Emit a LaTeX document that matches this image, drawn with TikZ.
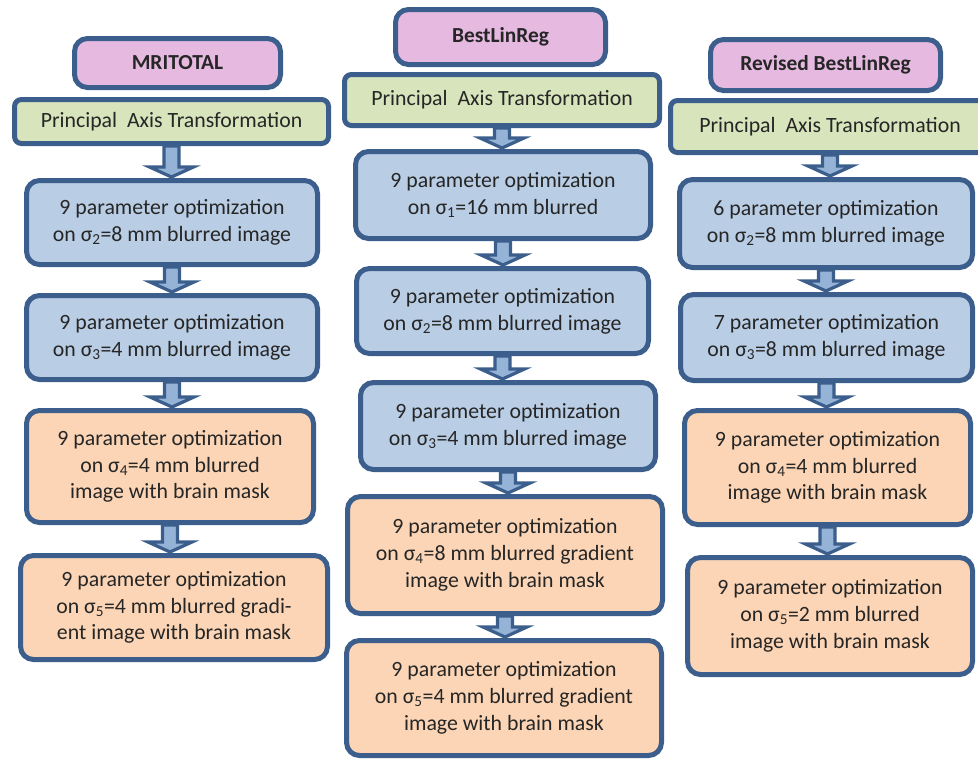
\documentclass[tikz,border=0pt]{standalone}
\usepackage{fontspec}
\setmainfont{Carlito}
\usepackage{tikz}
\usetikzlibrary{calc}

\definecolor{frameblue}{HTML}{3B5E8C}
\definecolor{headpink}{HTML}{E6B9E1}
\definecolor{patgreen}{HTML}{D8E4BC}
\definecolor{optblue}{HTML}{B9CDE5}
\definecolor{optorange}{HTML}{FBD5B5}
\definecolor{arrowfill}{HTML}{95B3D7}
\definecolor{textdark}{HTML}{262626}

\tikzset{
	stage/.style 2 args={draw=frameblue, line width=5pt, rounded corners=13pt,
		minimum width=#1, minimum height=#2, inner sep=0pt, align=center,
		text=textdark, font=\fontsize{21.8}{26.7}\selectfont},
	headbox/.style={fill=headpink, font=\fontsize{21.4}{26}\selectfont\bfseries},
	patbox/.style={fill=patgreen, rounded corners=7pt},
	blurbox/.style={fill=optblue},
	maskbox/.style={fill=optorange},
	arrowblock/.style={draw=frameblue, fill=arrowfill, line width=3.2pt, line join=miter},
}

% block arrow from the bottom of one stage to the top of the next
\newcommand{\stagearrow}[2]{%
	\path let \p1=(#1.south), \p2=(#2.north) in
		[arrowblock] (\x1-7.5pt,\y1) -- (\x1+7.5pt,\y1) -- (\x1+7.5pt,\y2+11pt)
		-- (\x1+22pt,\y2+11pt) -- (\x1,\y2+1pt) -- (\x1-22pt,\y2+11pt)
		-- (\x1-7.5pt,\y2+11pt) -- cycle;}

\begin{document}
\begin{tikzpicture}[x=1pt, y=-1pt]
	\useasboundingbox (0,0) rectangle (978,761);
	\clip (0,0) rectangle (978,761);
	% MRITOTAL
	\node[stage={206pt}{49pt}, headbox] (head1) at (177.5,63) {MRITOTAL};
	\node[stage={314pt}{44pt}, patbox] (pat1) at (171.5,121.5) {Principal\ \ Axis Transformation};
	\node[stage={291pt}{84pt}, blurbox] (m1) at (172,222.5) {9 parameter optimization\\on σ\textsubscript{2}=8 mm blurred image};
	\node[stage={291pt}{84pt}, blurbox] (m2) at (172,337.5) {9 parameter optimization\\on σ\textsubscript{3}=4 mm blurred image};
	\node[stage={287pt}{112pt}, maskbox] (m3) at (170,466.5) {9 parameter optimization\\on σ\textsubscript{4}=4 mm blurred\\image with brain mask};
	\node[stage={307pt}{104pt}, maskbox] (m4) at (174,607.5) {9 parameter optimization\\on σ\textsubscript{5}=4 mm blurred gradi-\\ent image with brain mask};
	% BestLinReg
	\node[stage={210pt}{55pt}, headbox] (head2) at (500.5,37) {BestLinReg};
	\node[stage={315pt}{51pt}, patbox] (pat2) at (502,100) {Principal\ \ Axis Transformation};
	\node[stage={295pt}{87pt}, blurbox] (b1) at (503,195) {9 parameter optimization\\on σ\textsubscript{1}=16 mm blurred};
	\node[stage={292pt}{85pt}, blurbox] (b2) at (502.5,311) {9 parameter optimization\\on σ\textsubscript{2}=8 mm blurred image};
	\node[stage={295pt}{87pt}, blurbox] (b3) at (508,426) {9 parameter optimization\\on σ\textsubscript{3}=4 mm blurred image};
	\node[stage={315pt}{117pt}, maskbox] (b4) at (505,555) {9 parameter optimization\\on σ\textsubscript{4}=8 mm blurred gradient\\image with brain mask};
	\node[stage={315pt}{115pt}, maskbox] (b5) at (504,698) {9 parameter optimization\\on σ\textsubscript{5}=4 mm blurred gradient\\image with brain mask};
	% Revised BestLinReg
	\node[stage={230pt}{51pt}, headbox] (head3) at (825.5,65) {Revised BestLinReg};
	\node[stage={319pt}{52pt}, patbox] (pat3) at (830,126.5) {Principal\ \ Axis Transformation};
	\node[stage={293pt}{88pt}, blurbox] (r1) at (826,223.5) {6 parameter optimization\\on σ\textsubscript{2}=8 mm blurred image};
	\node[stage={292pt}{86pt}, blurbox] (r2) at (826.5,337.5) {7 parameter optimization\\on σ\textsubscript{3}=8 mm blurred image};
	\node[stage={286pt}{114pt}, maskbox] (r3) at (827.5,467.5) {9 parameter optimization\\on σ\textsubscript{4}=4 mm blurred\\image with brain mask};
	\node[stage={285pt}{117pt}, maskbox] (r4) at (830,616) {9 parameter optimization\\on σ\textsubscript{5}=2 mm blurred\\image with brain mask};
	% arrows
	\stagearrow{pat1}{m1}
	\stagearrow{m1}{m2}
	\stagearrow{m2}{m3}
	\stagearrow{m3}{m4}
	\stagearrow{pat2}{b1}
	\stagearrow{b1}{b2}
	\stagearrow{b2}{b3}
	\stagearrow{b3}{b4}
	\stagearrow{b4}{b5}
	\stagearrow{pat3}{r1}
	\stagearrow{r1}{r2}
	\stagearrow{r2}{r3}
	\stagearrow{r3}{r4}
\end{tikzpicture}
\end{document}
